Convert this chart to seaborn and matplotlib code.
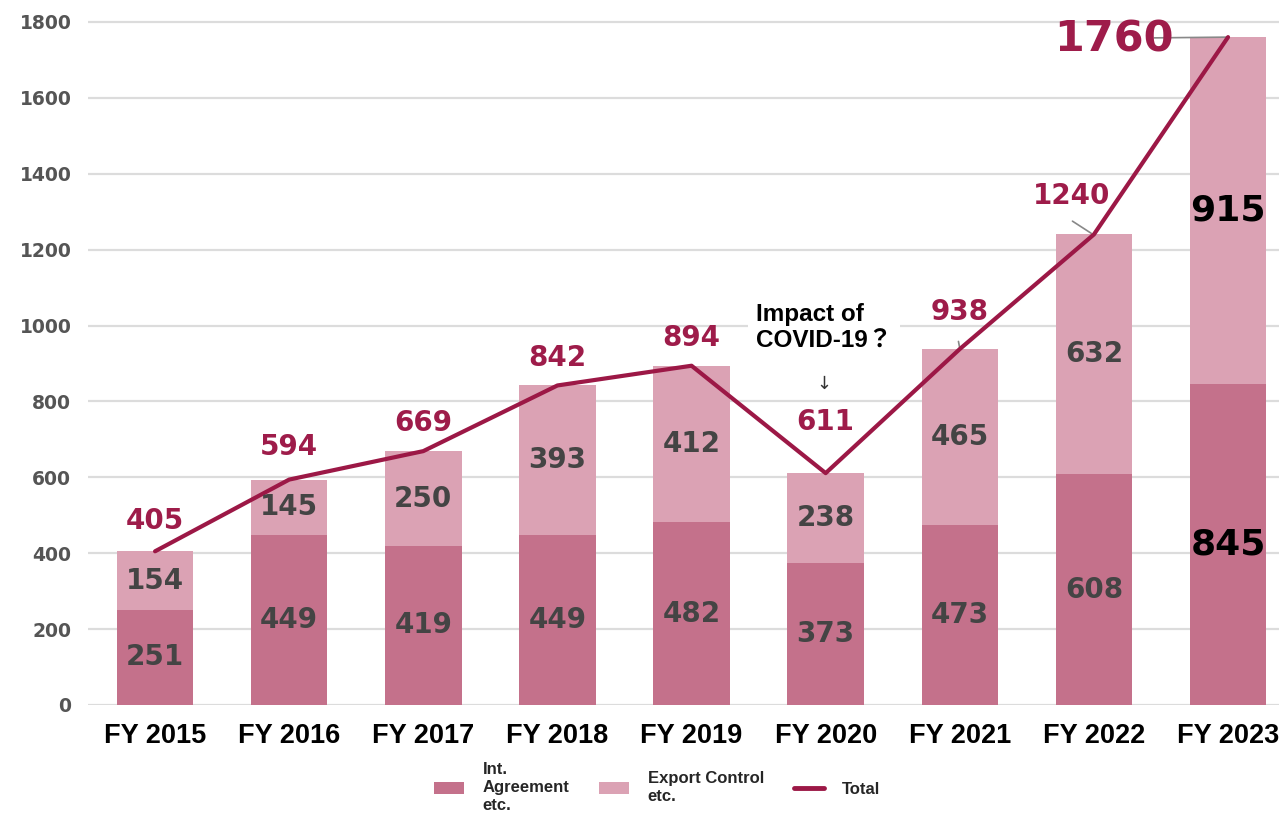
import numpy as np
import seaborn as sns
import matplotlib.pyplot as plt
from matplotlib.patches import Patch
from matplotlib.lines import Line2D

# Data
years = ["FY 2015", "FY 2016", "FY 2017", "FY 2018", "FY 2019",
         "FY 2020", "FY 2021", "FY 2022", "FY 2023"]
int_agreement = [251, 449, 419, 449, 482, 373, 473, 608, 845]
export_control = [154, 145, 250, 393, 412, 238, 465, 632, 915]
totals = [405, 594, 669, 842, 894, 611, 938, 1240, 1760]

# label placement for the totals (x shift, y shift in data units)
total_dx = [0, 0, 0, 0, 0, 0, 0, -0.17, -0.85]
total_dy = [80, 86, 74, 73, 73, 135, 98, 102, -7]

DARK = "#c4718b"
LIGHT = "#dba2b4"
LINE = "#9c1846"
LABEL_RED = "#9e1c4a"

sns.set_style("white")
plt.rcParams["font.family"] = ["Liberation Sans", "DejaVu Sans"]

fig = plt.figure(figsize=(12.79, 8.23), dpi=100)
ax = fig.add_axes([0.0688, 0.1434, 0.9312, 0.853])

x = np.arange(len(years))
sns.barplot(x=years, y=totals, color=LIGHT, saturation=1, width=0.57,
            linewidth=0, ax=ax, zorder=2)
sns.barplot(x=years, y=int_agreement, color=DARK, saturation=1, width=0.57,
            linewidth=0, ax=ax, zorder=3)
sns.lineplot(x=x, y=totals, color=LINE, linewidth=3, ax=ax, zorder=5)

ax.set_xlim(-0.5, 8.38)
ax.set_ylim(0, 1850)
ax.set_yticks(range(0, 1801, 200))
ax.yaxis.grid(True, color="#dcdcdc", linewidth=1.6, zorder=0)
ax.set_axisbelow(True)
for s in ax.spines.values():
    s.set_visible(False)
ax.set_xlabel("")
ax.set_ylabel("")
ax.tick_params(axis="both", length=0)
ax.tick_params(axis="y", pad=12)
ax.tick_params(axis="x", pad=13)
for lab in ax.get_yticklabels():
    lab.set_fontfamily("DejaVu Sans")
    lab.set_fontweight("bold")
    lab.set_fontsize(13.5)
    lab.set_color("#555555")
for lab in ax.get_xticklabels():
    lab.set_fontweight("bold")
    lab.set_fontsize(19.5)
    lab.set_color("black")

# segment labels
for i in x:
    last = i == len(years) - 1
    col = "black" if last else "#444444"
    fs = 26 if last else 20
    ax.text(i, int_agreement[i] / 2, str(int_agreement[i]), ha="center", va="center",
            fontsize=fs, fontweight="bold", color=col, family="DejaVu Sans", zorder=6)
    ax.text(i, int_agreement[i] + export_control[i] / 2, str(export_control[i]),
            ha="center", va="center", fontsize=fs, fontweight="bold", color=col,
            family="DejaVu Sans", zorder=6)

# total labels
for i in x:
    fs = 31 if i == len(years) - 1 else 20
    ax.text(i + total_dx[i], totals[i] + total_dy[i], str(totals[i]), ha="center",
            va="center", fontsize=fs, fontweight="bold", color=LABEL_RED,
            family="DejaVu Sans", zorder=7)

# small leader lines
ax.plot([7.45, 8.0], [1758, 1760], color="#888888", lw=1.2, zorder=4)
ax.plot([6.84, 6.98], [1275, 1243], color="#888888", lw=1.2, zorder=4)
ax.plot([5.99, 6.0], [958, 940], color="#888888", lw=1.2, zorder=4)

# COVID annotation
ax.text(4.48, 993, "Impact of\nCOVID-19？", ha="left", va="center", fontsize=17.5,
        fontweight="bold", color="black", linespacing=1.2,
        family=["Liberation Sans", "Noto Sans CJK JP", "DejaVu Sans"],
        bbox=dict(facecolor="white", edgecolor="none", pad=6), zorder=8)
ax.text(4.99, 845, "↓", ha="center", va="center", fontsize=13, color="#333333",
        family="DejaVu Sans", zorder=8)

handles = [Patch(facecolor=DARK, edgecolor="none"),
           Patch(facecolor=LIGHT, edgecolor="none"),
           Line2D([0], [0], color=LINE, lw=3.5)]
labels = ["Int.\nAgreement\netc.", "Export Control\netc.", "Total"]
fig.legend(handles, labels, loc="upper center", bbox_to_anchor=(0.514, 0.088),
           ncol=3, frameon=False, prop={"weight": "bold", "size": 12},
           handlelength=1.8, handleheight=0.75, columnspacing=1.8, handletextpad=1.1,
           borderpad=0.2)
for t in fig.legends[0].get_texts():
    t.set_linespacing(1.25)

fig.savefig("out.png", dpi=100)
